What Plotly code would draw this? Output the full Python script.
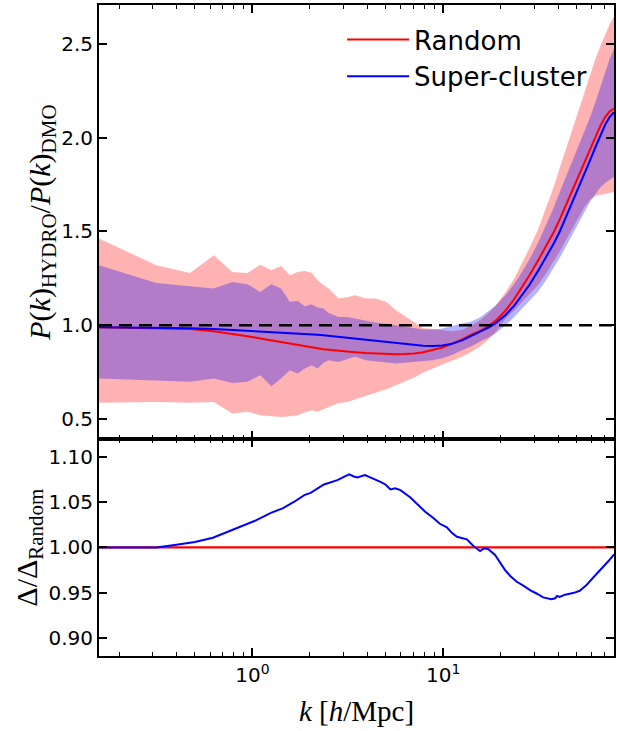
import numpy as np
import plotly.graph_objects as go

# ---- power-spectrum ratio, P_HYDRO / P_DMO (top panel) ----
k_top = [0.1571, 0.314, 0.471, 0.628, 0.785, 0.942, 1.100, 1.257, 1.414, 1.571,
         1.728, 1.885, 2.042, 2.199, 2.356, 2.513, 2.670, 2.827, 3.142, 3.456,
         3.927, 4.398, 5.027, 5.655, 6.283, 7.069, 7.854, 8.796, 9.896, 10.996,
         12.566, 14.137, 15.708, 17.279, 18.850, 21.206, 23.562, 25.918, 28.274,
         31.416, 34.558, 37.699, 40.841, 43.982, 47.124, 51.051, 54.978, 58.905,
         62.832, 66.759, 70.686, 74.613, 78.540]

random_mean = [0.990, 0.985, 0.980, 0.968, 0.955, 0.942, 0.930, 0.920, 0.910, 0.901,
               0.894, 0.887, 0.882, 0.877, 0.873, 0.870, 0.867, 0.864, 0.860, 0.857,
               0.853, 0.850, 0.848, 0.846, 0.847, 0.850, 0.857, 0.868, 0.882, 0.900,
               0.925, 0.952, 0.972, 0.996, 1.025, 1.078, 1.140, 1.205, 1.265,
               1.346, 1.418, 1.490, 1.565, 1.640, 1.710, 1.790, 1.870, 1.940,
               2.010, 2.065, 2.110, 2.140, 2.155]

random_hi = [1.462, 1.320, 1.279, 1.373, 1.284, 1.279, 1.323, 1.293, 1.316, 1.267,
             1.284, 1.290, 1.280, 1.240, 1.215, 1.196, 1.170, 1.143, 1.150, 1.160,
             1.143, 1.143, 1.125, 1.080, 1.050, 1.015, 0.985, 0.980, 0.972, 0.968,
             0.975, 1.000, 1.030, 1.065, 1.105, 1.175, 1.250, 1.330, 1.410,
             1.510, 1.620, 1.730, 1.840, 1.940, 2.040, 2.150, 2.250, 2.340,
             2.420, 2.490, 2.550, 2.605, 2.645]

random_lo = [0.587, 0.592, 0.587, 0.592, 0.530, 0.539, 0.521, 0.516, 0.512, 0.516,
             0.521, 0.535, 0.548, 0.540, 0.555, 0.565, 0.575, 0.585, 0.592, 0.605,
             0.625, 0.640, 0.660, 0.681, 0.700, 0.722, 0.748, 0.770, 0.792, 0.810,
             0.832, 0.860, 0.890, 0.925, 0.965, 1.035, 1.080, 1.125, 1.165,
             1.215, 1.275, 1.335, 1.395, 1.455, 1.510, 1.575, 1.630, 1.670,
             1.690, 1.695, 1.700, 1.705, 1.710]

cluster_mean = [0.990, 0.988, 0.985, 0.981, 0.976, 0.972, 0.968, 0.965, 0.962, 0.960,
                0.958, 0.955, 0.952, 0.950, 0.947, 0.944, 0.941, 0.938, 0.932, 0.929,
                0.922, 0.916, 0.910, 0.905, 0.900, 0.895, 0.891, 0.890, 0.892, 0.900,
                0.920, 0.945, 0.968, 0.988, 1.012, 1.055, 1.105, 1.160, 1.215,
                1.290, 1.360, 1.430, 1.500, 1.575, 1.645, 1.730, 1.810, 1.880,
                1.950, 2.015, 2.070, 2.110, 2.135]

cluster_hi = [1.320, 1.226, 1.208, 1.196, 1.231, 1.219, 1.178, 1.219, 1.196, 1.125,
              1.130, 1.102, 1.112, 1.095, 1.089, 1.066, 1.055, 1.045, 1.045, 1.036,
              1.027, 1.015, 1.008, 1.000, 0.992, 0.983, 0.978, 0.978, 0.983, 0.995,
              1.008, 1.022, 1.045, 1.075, 1.105, 1.160, 1.220, 1.285, 1.350,
              1.440, 1.530, 1.620, 1.710, 1.790, 1.860, 1.950, 2.030, 2.110,
              2.190, 2.270, 2.350, 2.420, 2.475]

cluster_lo = [0.717, 0.708, 0.699, 0.717, 0.693, 0.699, 0.734, 0.676, 0.717, 0.761,
              0.743, 0.770, 0.787, 0.770, 0.800, 0.814, 0.810, 0.805, 0.820, 0.832,
              0.814, 0.808, 0.800, 0.797, 0.800, 0.805, 0.810, 0.814, 0.825, 0.840,
              0.867, 0.890, 0.915, 0.935, 0.958, 1.000, 1.045, 1.090, 1.130,
              1.180, 1.240, 1.300, 1.360, 1.420, 1.475, 1.540, 1.600, 1.660,
              1.700, 1.735, 1.760, 1.778, 1.790]

# ---- Delta / Delta_Random (bottom panel) ----
k_ratio = [0.1571, 0.314, 0.40, 0.50, 0.621, 0.70, 0.805, 0.926, 1.05, 1.25,
           1.44, 1.65, 1.87, 2.02, 2.20, 2.37, 2.79, 3.00, 3.21, 3.40,
           3.55, 3.89, 4.30, 4.69, 5.00, 5.29, 5.60, 5.97, 6.73, 7.30,
           8.05, 8.91, 9.60, 10.45, 11.1, 11.8, 13.3, 14.4, 15.6, 16.4,
           17.3, 18.7, 19.8, 21.1, 22.6, 24.3, 26.3, 28.5, 31.0, 33.4,
           36.9, 38.6, 39.5, 40.8, 43.5, 46.0, 48.5, 51.9, 56.0, 61.0,
           64.5, 68.7, 73.5, 78.54]
cluster_ratio = [1.000, 1.000, 1.003, 1.006, 1.0106, 1.015, 1.0199, 1.0246, 1.030, 1.038,
                 1.043, 1.050, 1.0576, 1.060, 1.065, 1.0693, 1.074, 1.077, 1.0803, 1.078,
                 1.077, 1.0795, 1.076, 1.0722, 1.069, 1.0638, 1.065, 1.063, 1.055, 1.048,
                 1.0392, 1.032, 1.026, 1.022, 1.016, 1.0117, 1.0088, 1.0015, 0.996, 0.999,
                 0.9978, 0.9916, 0.984, 0.975, 0.968, 0.9622, 0.958, 0.9531, 0.949, 0.945,
                 0.9429, 0.944, 0.9465, 0.9455, 0.948, 0.9487, 0.950, 0.9523, 0.958, 0.9666,
                 0.972, 0.9787, 0.985, 0.9924]
k_ratio_random = [0.1571, 78.54]
random_ratio = [1.0, 1.0]

# ---- ticks ----
K_MIN, K_MAX = 0.15708, 78.54
x_major = [1, 10]
x_major_text = ["10<sup>0</sup>", "10<sup>1</sup>"]
x_minor = [0.2, 0.3, 0.4, 0.5, 0.6, 0.7, 0.8, 0.9,
           2, 3, 4, 5, 6, 7, 8, 9, 20, 30, 40, 50, 60, 70]
top_yticks = [0.5, 1.0, 1.5, 2.0, 2.5]
bottom_yticks = [0.90, 0.95, 1.00, 1.05, 1.10]

RED = "#ff0000"
BLUE = "#0000ff"
SANS = "DejaVu Sans"
SERIF = "Liberation Serif"

fig = go.Figure()

# shaded scatter bands
fig.add_trace(go.Scatter(x=k_top, y=random_lo, mode="lines", line=dict(width=0),
                         showlegend=False, hoverinfo="skip", xaxis="x", yaxis="y"))
fig.add_trace(go.Scatter(x=k_top, y=random_hi, mode="lines", line=dict(width=0),
                         fill="tonexty", fillcolor="rgba(255,0,0,0.3)",
                         showlegend=False, hoverinfo="skip", xaxis="x", yaxis="y"))
fig.add_trace(go.Scatter(x=k_top, y=cluster_lo, mode="lines", line=dict(width=0),
                         showlegend=False, hoverinfo="skip", xaxis="x", yaxis="y"))
fig.add_trace(go.Scatter(x=k_top, y=cluster_hi, mode="lines", line=dict(width=0),
                         fill="tonexty", fillcolor="rgba(0,0,255,0.3)",
                         showlegend=False, hoverinfo="skip", xaxis="x", yaxis="y"))

# mean curves
fig.add_trace(go.Scatter(x=k_top, y=random_mean, mode="lines", name="Random",
                         line=dict(color=RED, width=2), xaxis="x", yaxis="y"))
fig.add_trace(go.Scatter(x=k_top, y=cluster_mean, mode="lines", name="Super-cluster",
                         line=dict(color=BLUE, width=2), xaxis="x", yaxis="y"))

# bottom panel
fig.add_trace(go.Scatter(x=k_ratio_random, y=random_ratio, mode="lines",
                         line=dict(color=RED, width=2.2), showlegend=False,
                         xaxis="x2", yaxis="y2"))
fig.add_trace(go.Scatter(x=k_ratio, y=cluster_ratio, mode="lines",
                         line=dict(color=BLUE, width=2), showlegend=False,
                         xaxis="x2", yaxis="y2"))

fig.add_hline(y=1.0, line=dict(color="black", width=2.6, dash="13px,7px"),
              xref="x", yref="y")

split = 217 / 651.5
x_range = [np.log10(K_MIN), np.log10(K_MAX)]

axis_common = dict(showline=True, linecolor="black", linewidth=2, mirror="allticks",
                   ticks="inside", ticklen=8, tickwidth=1.5, tickcolor="black",
                   showgrid=False, zeroline=False,
                   tickfont=dict(family=SANS, size=20, color="black"))
x_common = dict(axis_common, type="log", range=x_range, tickmode="array",
                tickvals=x_major,
                minor=dict(tickmode="array", tickvals=x_minor, ticks="inside",
                           ticklen=4, tickwidth=1.2, tickcolor="black", showgrid=False))

fig.update_layout(
    width=617, height=731,
    margin=dict(l=99, r=1, t=4.5, b=75),
    paper_bgcolor="white", plot_bgcolor="white",
    font=dict(family=SANS, color="black"),
    xaxis=dict(x_common, domain=[0, 1], anchor="y", showticklabels=False, matches="x2"),
    xaxis2=dict(x_common, domain=[0, 1], anchor="y2", ticktext=x_major_text,
                title=dict(text="<i>k</i> [<i>h</i>/Mpc]",
                           font=dict(family=SERIF, size=29), standoff=15)),
    yaxis=dict(axis_common, domain=[split, 1], anchor="x", range=[0.3935, 2.7065],
               tickmode="array", tickvals=top_yticks, tickformat=".1f",
               title=dict(text="<i>P</i>(<i>k</i>)<sub>HYDRO</sub>/<i>P</i>(<i>k</i>)<sub>DMO</sub>",
                          font=dict(family=SERIF, size=30), standoff=0)),
    yaxis2=dict(axis_common, domain=[0, split], anchor="x2", range=[0.8805, 1.1191],
                tickmode="array", tickvals=bottom_yticks, tickformat=".2f",
                title=dict(text="Δ/Δ<sub>Random</sub>",
                           font=dict(family=SERIF, size=30), standoff=2)),
    legend=dict(x=0.472, y=0.983, xanchor="left", yanchor="top",
                bgcolor="rgba(0,0,0,0)", borderwidth=0, traceorder="normal",
                font=dict(family=SANS, size=26, color="black"),
                itemwidth=62, tracegroupgap=0),
    showlegend=True,
)

fig.write_html("out.html")
